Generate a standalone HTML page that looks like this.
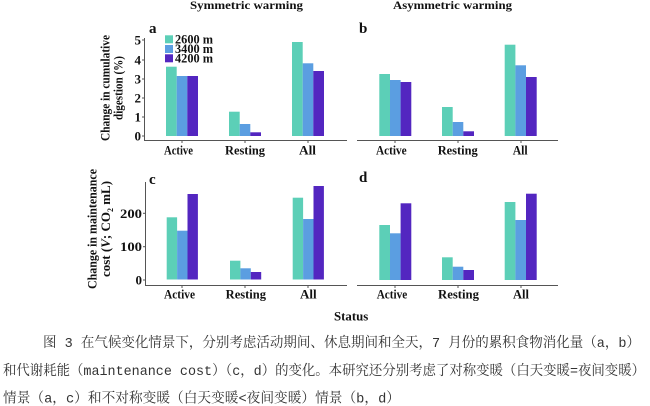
<!DOCTYPE html>
<html><head><meta charset="utf-8">
<style>
html,body{margin:0;padding:0;background:#fff;}
svg{display:block;}
.t{font-family:"Liberation Serif",serif;font-weight:bold;fill:#111;}
.cap{font-family:"Liberation Mono","Noto Serif CJK SC",serif;fill:#333;font-size:14px;}
</style></head>
<body>
<svg width="650" height="406" viewBox="0 0 650 406" xmlns="http://www.w3.org/2000/svg">
<rect width="650" height="406" fill="#fff"/>
<!-- Titles -->
<text class="t" x="190" y="9" font-size="12" textLength="113" lengthAdjust="spacingAndGlyphs">Symmetric warming</text>
<text class="t" x="393" y="9" font-size="12" textLength="119" lengthAdjust="spacingAndGlyphs">Asymmetric warming</text>

<!-- Panel letters -->
<text class="t" x="149" y="33" font-size="15">a</text>
<text class="t" x="359" y="33" font-size="15">b</text>
<text class="t" x="149" y="184" font-size="15">c</text>
<text class="t" x="359" y="182" font-size="15">d</text>

<!-- Y labels -->
<text class="t" font-size="13" text-anchor="middle" transform="translate(109.5,88) rotate(-90)" textLength="106" lengthAdjust="spacingAndGlyphs">Change in cumulative</text>
<text class="t" font-size="13" text-anchor="middle" transform="translate(122.5,88) rotate(-90)" textLength="64" lengthAdjust="spacingAndGlyphs">digestion (%)</text>
<text class="t" font-size="13" text-anchor="middle" transform="translate(96.5,229) rotate(-90)" textLength="120" lengthAdjust="spacingAndGlyphs">Change in maintenance</text>
<text class="t" font-size="13" text-anchor="middle" transform="translate(110,229) rotate(-90)">cost (<tspan font-style="italic">V</tspan>; CO<tspan font-size="8" dy="3">2</tspan><tspan dy="-3"> mL)</tspan></text>

<!-- Axes -->
<g stroke="#555" stroke-width="1" fill="none">
<line x1="144.5" y1="38" x2="144.5" y2="141"/>
<line x1="144" y1="140.5" x2="347" y2="140.5"/>
<line x1="357" y1="140.5" x2="558" y2="140.5"/>
<line x1="145.5" y1="182" x2="145.5" y2="286"/>
<line x1="145" y1="285.5" x2="347" y2="285.5"/>
<line x1="357" y1="285.5" x2="558" y2="285.5"/>
<line x1="142" y1="136" x2="144.5" y2="136"/>
<line x1="142" y1="117" x2="144.5" y2="117"/>
<line x1="142" y1="98" x2="144.5" y2="98"/>
<line x1="142" y1="79" x2="144.5" y2="79"/>
<line x1="142" y1="60" x2="144.5" y2="60"/>
<line x1="142" y1="40" x2="144.5" y2="40"/>
<line x1="143" y1="280" x2="145.5" y2="280"/>
<line x1="143" y1="246.7" x2="145.5" y2="246.7"/>
<line x1="143" y1="213.3" x2="145.5" y2="213.3"/>
<line x1="182" y1="140.5" x2="182" y2="143"/>
<line x1="245" y1="140.5" x2="245" y2="143"/>
<line x1="308" y1="140.5" x2="308" y2="143"/>
<line x1="395" y1="140.5" x2="395" y2="143"/>
<line x1="458" y1="140.5" x2="458" y2="143"/>
<line x1="521" y1="140.5" x2="521" y2="143"/>
<line x1="182" y1="285.5" x2="182" y2="288"/>
<line x1="245" y1="285.5" x2="245" y2="288"/>
<line x1="308" y1="285.5" x2="308" y2="288"/>
<line x1="395" y1="285.5" x2="395" y2="288"/>
<line x1="458" y1="285.5" x2="458" y2="288"/>
<line x1="521" y1="285.5" x2="521" y2="288"/>
</g>

<!-- Y tick labels -->
<g class="t" font-size="13" text-anchor="end">
<text x="141" y="140.5">0</text>
<text x="141" y="121.5">1</text>
<text x="141" y="102.5">2</text>
<text x="141" y="83.5">3</text>
<text x="141" y="64.5">4</text>
<text x="141" y="44.5">5</text>
<text x="142" y="284.5">0</text>
</g>
<g class="t" font-size="13">
<text x="120" y="251.2" textLength="22" lengthAdjust="spacingAndGlyphs">100</text>
<text x="120" y="217.8" textLength="22" lengthAdjust="spacingAndGlyphs">200</text>
</g>

<!-- Bars panel a -->
<g>
<rect x="166" y="66.7" width="10.7" height="69.3" fill="#5ccfb7"/>
<rect x="176.7" y="76" width="10.6" height="60" fill="#5b9ee1"/>
<rect x="187.3" y="76" width="10.7" height="60" fill="#5326c0"/>
<rect x="229" y="111.7" width="10.7" height="24.3" fill="#5ccfb7"/>
<rect x="239.7" y="124" width="10.6" height="12" fill="#5b9ee1"/>
<rect x="250.3" y="132.3" width="10.7" height="3.7" fill="#5326c0"/>
<rect x="292" y="42" width="10.7" height="94" fill="#5ccfb7"/>
<rect x="302.7" y="63.3" width="10.6" height="72.7" fill="#5b9ee1"/>
<rect x="313.3" y="71" width="10.7" height="65" fill="#5326c0"/>
</g>
<!-- Bars panel b -->
<g>
<rect x="379.3" y="74" width="10.7" height="62" fill="#5ccfb7"/>
<rect x="390" y="80" width="10.6" height="56" fill="#5b9ee1"/>
<rect x="400.6" y="82" width="10.7" height="54" fill="#5326c0"/>
<rect x="442" y="107" width="10.7" height="29" fill="#5ccfb7"/>
<rect x="452.7" y="122" width="10.6" height="14" fill="#5b9ee1"/>
<rect x="463.3" y="131.3" width="10.7" height="4.7" fill="#5326c0"/>
<rect x="504.7" y="44.7" width="10.7" height="91.3" fill="#5ccfb7"/>
<rect x="515.4" y="65.3" width="10.6" height="70.7" fill="#5b9ee1"/>
<rect x="526" y="77" width="10.7" height="59" fill="#5326c0"/>
</g>
<!-- Bars panel c -->
<g>
<rect x="166.7" y="217.3" width="10.4" height="62.2" fill="#5ccfb7"/>
<rect x="177.1" y="230.7" width="10.4" height="48.8" fill="#5b9ee1"/>
<rect x="187.5" y="194" width="10.4" height="85.5" fill="#5326c0"/>
<rect x="230" y="260.7" width="10.4" height="18.8" fill="#5ccfb7"/>
<rect x="240.4" y="268.3" width="10.4" height="11.2" fill="#5b9ee1"/>
<rect x="250.8" y="272" width="10.4" height="7.5" fill="#5326c0"/>
<rect x="292.7" y="197.7" width="10.4" height="81.8" fill="#5ccfb7"/>
<rect x="303.1" y="219" width="10.4" height="60.5" fill="#5b9ee1"/>
<rect x="313.5" y="186" width="10.4" height="93.5" fill="#5326c0"/>
</g>
<!-- Bars panel d -->
<g>
<rect x="379.3" y="225" width="10.7" height="55" fill="#5ccfb7"/>
<rect x="390" y="233.3" width="10.6" height="46.7" fill="#5b9ee1"/>
<rect x="400.6" y="203.3" width="10.7" height="76.7" fill="#5326c0"/>
<rect x="442" y="257.3" width="10.7" height="22.7" fill="#5ccfb7"/>
<rect x="452.7" y="266.7" width="10.6" height="13.3" fill="#5b9ee1"/>
<rect x="463.3" y="270" width="10.7" height="10" fill="#5326c0"/>
<rect x="504.7" y="202" width="10.7" height="78" fill="#5ccfb7"/>
<rect x="515.4" y="220" width="10.6" height="60" fill="#5b9ee1"/>
<rect x="526" y="193.7" width="10.7" height="86.3" fill="#5326c0"/>
</g>

<!-- Legend -->
<rect x="165" y="35.3" width="8" height="8" fill="#5ccfb7"/>
<rect x="165" y="45" width="8" height="8" fill="#5b9ee1"/>
<rect x="165" y="54.3" width="8" height="8" fill="#5326c0"/>
<g class="t" font-size="12.5">
<text x="175" y="43.3" textLength="38" lengthAdjust="spacingAndGlyphs">2600 m</text>
<text x="175" y="53" textLength="38" lengthAdjust="spacingAndGlyphs">3400 m</text>
<text x="175" y="62.3" textLength="38" lengthAdjust="spacingAndGlyphs">4200 m</text>
</g>

<!-- X labels -->
<g class="t" font-size="12.5">
<text x="164" y="154.5" textLength="29" lengthAdjust="spacingAndGlyphs">Active</text>
<text x="225" y="154.5" textLength="40" lengthAdjust="spacingAndGlyphs">Resting</text>
<text x="299" y="154.5" textLength="17" lengthAdjust="spacingAndGlyphs">All</text>
<text x="376" y="154.5" textLength="30.7" lengthAdjust="spacingAndGlyphs">Active</text>
<text x="437.7" y="154.5" textLength="40" lengthAdjust="spacingAndGlyphs">Resting</text>
<text x="512.7" y="154.5" textLength="15" lengthAdjust="spacingAndGlyphs">All</text>
<text x="164" y="298.5" textLength="31" lengthAdjust="spacingAndGlyphs">Active</text>
<text x="225.7" y="298.5" textLength="40.3" lengthAdjust="spacingAndGlyphs">Resting</text>
<text x="300" y="298.5" textLength="16.7" lengthAdjust="spacingAndGlyphs">All</text>
<text x="376.7" y="298.5" textLength="30.6" lengthAdjust="spacingAndGlyphs">Active</text>
<text x="438" y="298.5" textLength="41" lengthAdjust="spacingAndGlyphs">Resting</text>
<text x="513" y="298.5" textLength="16" lengthAdjust="spacingAndGlyphs">All</text>
<text x="334" y="320.5" textLength="34.3" lengthAdjust="spacingAndGlyphs">Status</text>
</g>

<!-- Caption -->
<text class="cap" x="43" y="347" textLength="597" lengthAdjust="spacingAndGlyphs">图 3 在气候变化情景下，分别考虑活动期间、休息期间和全天，7 月份的累积食物消化量（a，b）</text>
<text class="cap" x="3" y="375" textLength="642" lengthAdjust="spacingAndGlyphs">和代谢耗能（maintenance cost）（c，d）的变化。本研究还分别考虑了对称变暖（白天变暖=夜间变暖）</text>
<text class="cap" x="3" y="402.5" textLength="397" lengthAdjust="spacingAndGlyphs">情景（a，c）和不对称变暖（白天变暖&lt;夜间变暖）情景（b，d）</text>
</svg>
</body></html>
